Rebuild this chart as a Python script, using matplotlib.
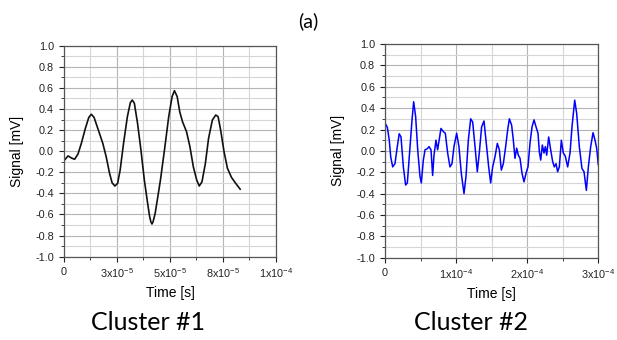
import matplotlib
matplotlib.use("Agg")
import matplotlib.pyplot as plt
import numpy as np

# cluster #1 (black trace), time in 1e-5 s
t1 = [0.0, 0.19, 0.35, 0.5, 0.66, 0.82, 1.01, 1.17, 1.29, 1.42, 1.61, 1.83, 1.99,
      2.15, 2.27, 2.4, 2.53, 2.65, 2.81, 2.99, 3.13, 3.22, 3.32, 3.47, 3.63, 3.79,
      3.95, 4.04, 4.1, 4.15, 4.2, 4.3, 4.42, 4.55, 4.74, 4.94, 5.1, 5.21, 5.34, 5.46,
      5.59, 5.78, 5.94, 6.1, 6.26, 6.38, 6.51, 6.67, 6.82, 7.0, 7.16, 7.27, 7.39,
      7.55, 7.71, 7.9, 8.1, 8.31]
s1 = [-0.09, -0.045, -0.064, -0.077, -0.027, 0.075, 0.217, 0.32, 0.35, 0.32, 0.207, 0.075, -0.052,
      -0.21, -0.30, -0.33, -0.305, -0.178, 0.075, 0.327, 0.46, 0.485, 0.454, 0.264, 0.011, -0.273,
      -0.50, -0.62, -0.67, -0.69, -0.67, -0.59, -0.44, -0.273, 0.011, 0.327, 0.517, 0.574, 0.517, 0.374,
      0.28, 0.185, 0.043, -0.147, -0.273, -0.33, -0.29, -0.115, 0.122, 0.296, 0.343, 0.327, 0.20,
      -0.005, -0.162, -0.248, -0.305, -0.36]

# cluster #2 (blue trace), time in 1e-4 s
t2 = [0.0, 0.033, 0.06, 0.08, 0.108, 0.14, 0.173, 0.2, 0.225, 0.258, 0.29, 0.314, 0.352,
      0.38, 0.403, 0.431, 0.46, 0.492, 0.511, 0.539, 0.563, 0.595, 0.619, 0.647, 0.67,
      0.689, 0.717, 0.74, 0.759, 0.787, 0.82, 0.848, 0.881, 0.914, 0.942, 0.97, 1.008,
      1.04, 1.073, 1.111, 1.139, 1.172, 1.205, 1.233, 1.266, 1.298, 1.326, 1.359, 1.392,
      1.42, 1.458, 1.486, 1.514, 1.547, 1.58, 1.608, 1.636, 1.664, 1.697, 1.725, 1.749,
      1.781, 1.805, 1.828, 1.852, 1.875, 1.899, 1.927, 1.955, 1.983, 2.011, 2.039, 2.068,
      2.096, 2.124, 2.152, 2.171, 2.19, 2.213, 2.236, 2.255, 2.274, 2.302, 2.33, 2.358,
      2.381, 2.405, 2.428, 2.452, 2.48, 2.508, 2.536, 2.569, 2.602, 2.63, 2.668, 2.696,
      2.733, 2.77, 2.799, 2.832, 2.86, 2.893, 2.926, 2.954, 2.977, 3.0]
s2 = [0.26, 0.22, 0.10, -0.055, -0.15, -0.12, 0.04, 0.16, 0.13, -0.15, -0.32, -0.30, 0.04,
      0.29, 0.46, 0.32, 0.01, -0.24, -0.30, -0.086, 0.01, 0.02, 0.04, 0.01, -0.23,
      -0.04, 0.10, 0.01, 0.09, 0.21, 0.18, 0.165, -0.02, -0.15, -0.12, 0.04, 0.165,
      0.04, -0.21, -0.40, -0.24, 0.10, 0.30, 0.27, 0.04, -0.195, -0.02, 0.225, 0.28,
      0.10, -0.15, -0.30, -0.15, -0.055, 0.07, 0.01, -0.18, -0.12, 0.04, 0.195, 0.30,
      0.24, 0.10, -0.07, 0.025, -0.04, -0.07, -0.21, -0.29, -0.21, -0.15, 0.07, 0.225,
      0.29, 0.225, 0.165, -0.01, -0.086, 0.055, -0.02, 0.04, -0.04, 0.13, 0.01, -0.10,
      -0.15, -0.12, -0.195, -0.15, 0.10, -0.02, -0.05, -0.15, -0.02, 0.225, 0.475, 0.35,
      0.04, -0.165, -0.195, -0.37, -0.15, 0.04, 0.17, 0.10, 0.025, -0.13]

yticks = [-1.0, -0.8, -0.6, -0.4, -0.2, 0.0, 0.2, 0.4, 0.6, 0.8, 1.0]
ylabels = ["%.1f" % v for v in yticks]
xticks1 = [0, 2.5e-5, 5e-5, 7.5e-5, 1e-4]
xlabels1 = ["0", r"3x10$^{-5}$", r"5x10$^{-5}$", r"8x10$^{-5}$", r"1x10$^{-4}$"]
xticks2 = [0, 1e-4, 2e-4, 3e-4]
xlabels2 = ["0", r"1x10$^{-4}$", r"2x10$^{-4}$", r"3x10$^{-4}$"]

plt.rcParams['font.family'] = ['Liberation Sans', 'DejaVu Sans']
plt.rcParams['mathtext.fontset'] = 'custom'
plt.rcParams['mathtext.rm'] = 'Liberation Sans'

fig = plt.figure(figsize=(6.17, 3.4), dpi=100)
ax1 = fig.add_axes([0.1037, 0.245, 0.3436, 0.6206])
ax2 = fig.add_axes([0.624, 0.242, 0.3457, 0.6285])


def style(ax, xt, xl, xmax, xminor):
    ax.set_xlim(0, xmax)
    ax.set_ylim(-1.0, 1.0)
    ax.set_yticks(yticks)
    ax.set_yticklabels(ylabels)
    ax.set_yticks(np.arange(-0.9, 1.0, 0.2), minor=True)
    ax.set_xticks(xt)
    ax.set_xticklabels(xl)
    ax.set_xticks(xminor, minor=True)
    ax.grid(which='major', color='#b4b4b4', linewidth=0.8)
    ax.grid(which='minor', color='#d6d6d6', linewidth=0.8)
    ax.set_axisbelow(True)
    ax.tick_params(which='both', direction='out', labelsize=7.8, colors='#222222',
                   top=False, right=False, pad=3.5)
    ax.tick_params(which='major', length=3.6, width=0.8)
    ax.tick_params(which='minor', length=2, width=0.6)
    for sp in ax.spines.values():
        sp.set_color('#555555')
        sp.set_linewidth(0.9)
    ax.set_ylabel('Signal [mV]', fontsize=10, labelpad=8)
    ax.set_xlabel('Time [s]', fontsize=10, labelpad=4)


ax1.plot(np.array(t1) * 1e-5, s1, color='#111111', linewidth=1.2,
         solid_joinstyle='round')
style(ax1, xticks1, xlabels1, 1e-4, [1.25e-5, 3.75e-5, 6.25e-5, 8.75e-5])

ax2.plot(np.array(t2) * 1e-4, s2, color='#0000ff', linewidth=1.1,
         solid_joinstyle='round')
style(ax2, xticks2, xlabels2, 3e-4, [0.5e-4, 1.5e-4, 2.5e-4])

fig.text(0.5, 0.938, '(a)', ha='center', va='center', fontsize=14, family='Lato')
fig.text(0.240, 0.05, 'Cluster #1', ha='center', va='center', fontsize=18, family='Lato')
fig.text(0.7626, 0.05, 'Cluster #2', ha='center', va='center', fontsize=18, family='Lato')

fig.savefig('out.png', dpi=100)
